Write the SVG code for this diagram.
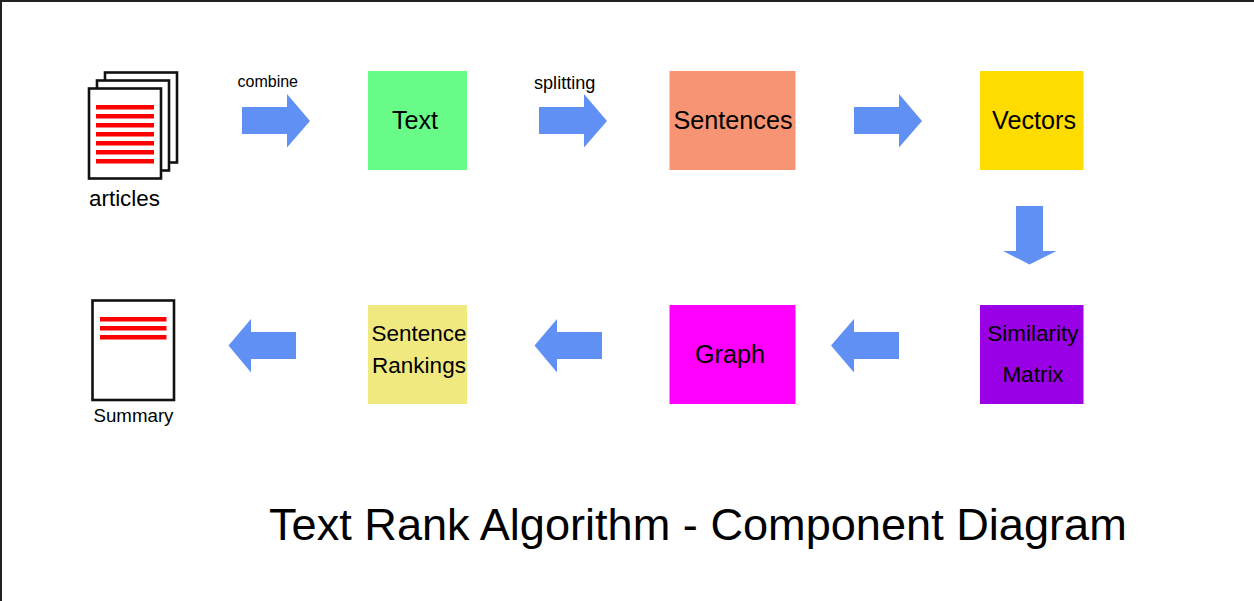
<svg xmlns="http://www.w3.org/2000/svg" width="1254" height="601" viewBox="0 0 1254 601">
<style>
text{font-family:"Liberation Sans",Arial,sans-serif;fill:#000}
.n{font-size:25.200px;text-anchor:middle}
.m{font-size:22.500px;text-anchor:middle}
.a{fill:#6190f5}
.p{fill:#fff;stroke:#111;stroke-width:2.600}
.r{fill:#f00}
</style>
<rect width="1254" height="601" fill="#fff"/>
<path d="M1 601V1H1254" fill="none" stroke="#222" stroke-width="2"/>
<g id="articles">
<rect class="p" x="105" y="72.500" width="72" height="90"/>
<rect class="p" x="97" y="80.500" width="72" height="90"/>
<rect class="p" x="89" y="88.500" width="72" height="90"/>
<g class="r"><rect x="96" y="105" width="58" height="4.500"/><rect x="96" y="114" width="58" height="4.500"/><rect x="96" y="123" width="58" height="4.500"/><rect x="96" y="132" width="58" height="4.500"/><rect x="96" y="141" width="58" height="4.500"/><rect x="96" y="150" width="58" height="4.500"/><rect x="96" y="159" width="58" height="4.500"/></g>
<text x="89" y="206" font-size="22.400">articles</text>
</g>
<g id="text-node"><rect x="368" y="71" width="99" height="99" fill="#69fb88"/><text class="n" x="415" y="129">Text</text></g>
<g id="sentences"><rect x="669.500" y="71" width="126" height="99" fill="#f69473"/><text class="n" x="733" y="129">Sentences</text></g>
<g id="vectors"><rect x="980" y="71" width="103.500" height="99" fill="#ffdc00"/><text class="n" x="1034" y="129">Vectors</text></g>
<g id="similarity-matrix"><rect x="980" y="305" width="103.500" height="99" fill="#9900e6"/><text class="m" x="1033" y="341">Similarity</text><text class="m" x="1033" y="382">Matrix</text></g>
<g id="graph"><rect x="669.500" y="305" width="126" height="99" fill="#ff00ff"/><text class="n" x="730" y="363">Graph</text></g>
<g id="sentence-rankings"><rect x="368" y="305" width="99" height="99" fill="#f0e97f"/><text class="m" x="419" y="341">Sentence</text><text class="m" x="419" y="372.500">Rankings</text></g>
<g id="summary">
<rect class="p" x="92.500" y="300.500" width="81.500" height="99.500"/>
<g class="r"><rect x="100" y="317" width="66.500" height="4.500"/><rect x="100" y="326" width="66.500" height="4.500"/><rect x="100" y="335" width="66.500" height="4.500"/></g>
<text x="93.500" y="422" font-size="18.700">Summary</text>
</g>
<g id="connectors">
<path class="a" d="M242 107H287V94L310 121L287 147.500V134H242Z"/>
<path class="a" d="M539 107H584V94L607 121L584 147.500V134H539Z"/>
<path class="a" d="M854 107H899V94L922 121L899 147.500V134H854Z"/>
<path class="a" d="M1016 206H1043V251H1056.500L1029.500 264.500L1003 251H1016Z"/>
<path class="a" d="M899 332H854V319L831 345.500L854 372.500V359H899Z"/>
<path class="a" d="M602 332H557V319L534.500 345.500L557 372.500V359H602Z"/>
<path class="a" d="M296 332H251V319L228.500 345.500L251 372.500V359H296Z"/>
<text x="237.500" y="87" font-size="16">combine</text>
<text x="534" y="89" font-size="18.100">splitting</text>
</g>
<text id="title" x="269" y="540" font-size="45.130">Text Rank Algorithm - Component Diagram</text>
</svg>
